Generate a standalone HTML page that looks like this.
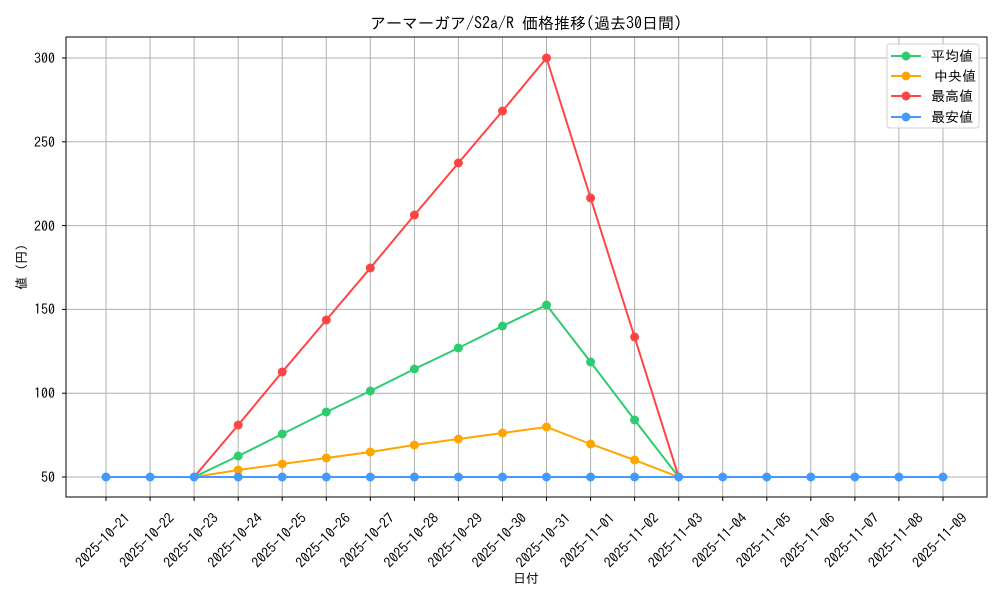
<!DOCTYPE html>
<html><head><meta charset="utf-8"><style>body{margin:0;background:#fff}svg{display:block}text{font-family:"IPAGothic","Noto Sans CJK JP",sans-serif;fill:#000}</style></head><body>
<svg width="1000" height="600" viewBox="0 0 1000 600">
<g stroke="#b0b0b0" stroke-width="1">
<line x1="66" x2="987" y1="477" y2="477"/><line x1="66" x2="987" y1="393.2" y2="393.2"/><line x1="66" x2="987" y1="309.4" y2="309.4"/><line x1="66" x2="987" y1="225.6" y2="225.6"/><line x1="66" x2="987" y1="141.8" y2="141.8"/><line x1="66" x2="987" y1="58" y2="58"/>
<line x1="106" x2="106" y1="37" y2="497"/><line x1="150.1" x2="150.1" y1="37" y2="497"/><line x1="194.1" x2="194.1" y1="37" y2="497"/><line x1="238.2" x2="238.2" y1="37" y2="497"/><line x1="282.2" x2="282.2" y1="37" y2="497"/><line x1="326.3" x2="326.3" y1="37" y2="497"/><line x1="370.3" x2="370.3" y1="37" y2="497"/><line x1="414.4" x2="414.4" y1="37" y2="497"/><line x1="458.4" x2="458.4" y1="37" y2="497"/><line x1="502.5" x2="502.5" y1="37" y2="497"/><line x1="546.5" x2="546.5" y1="37" y2="497"/><line x1="590.6" x2="590.6" y1="37" y2="497"/><line x1="634.6" x2="634.6" y1="37" y2="497"/><line x1="678.7" x2="678.7" y1="37" y2="497"/><line x1="722.7" x2="722.7" y1="37" y2="497"/><line x1="766.8" x2="766.8" y1="37" y2="497"/><line x1="810.8" x2="810.8" y1="37" y2="497"/><line x1="854.9" x2="854.9" y1="37" y2="497"/><line x1="898.9" x2="898.9" y1="37" y2="497"/><line x1="943" x2="943" y1="37" y2="497"/>
</g>
<rect x="66" y="37" width="921" height="460" fill="none" stroke="#000" stroke-width="1"/>
<g stroke="#000"><line x1="62" x2="66" y1="477" y2="477"/><line x1="62" x2="66" y1="393.2" y2="393.2"/><line x1="62" x2="66" y1="309.4" y2="309.4"/><line x1="62" x2="66" y1="225.6" y2="225.6"/><line x1="62" x2="66" y1="141.8" y2="141.8"/><line x1="62" x2="66" y1="58" y2="58"/>
<line x1="106" x2="106" y1="497" y2="501"/><line x1="150.1" x2="150.1" y1="497" y2="501"/><line x1="194.1" x2="194.1" y1="497" y2="501"/><line x1="238.2" x2="238.2" y1="497" y2="501"/><line x1="282.2" x2="282.2" y1="497" y2="501"/><line x1="326.3" x2="326.3" y1="497" y2="501"/><line x1="370.3" x2="370.3" y1="497" y2="501"/><line x1="414.4" x2="414.4" y1="497" y2="501"/><line x1="458.4" x2="458.4" y1="497" y2="501"/><line x1="502.5" x2="502.5" y1="497" y2="501"/><line x1="546.5" x2="546.5" y1="497" y2="501"/><line x1="590.6" x2="590.6" y1="497" y2="501"/><line x1="634.6" x2="634.6" y1="497" y2="501"/><line x1="678.7" x2="678.7" y1="497" y2="501"/><line x1="722.7" x2="722.7" y1="497" y2="501"/><line x1="766.8" x2="766.8" y1="497" y2="501"/><line x1="810.8" x2="810.8" y1="497" y2="501"/><line x1="854.9" x2="854.9" y1="497" y2="501"/><line x1="898.9" x2="898.9" y1="497" y2="501"/><line x1="943" x2="943" y1="497" y2="501"/></g>
<g font-size="14" text-anchor="end"><text x="55" y="482">50</text><text x="55" y="398">100</text><text x="55" y="314">150</text><text x="55" y="231">200</text><text x="55" y="147">250</text><text x="55" y="63">300</text></g>
<g font-size="14" text-anchor="end">
<text transform="translate(131,519) rotate(-45)">2025-10-21</text>
<text transform="translate(175.1,519) rotate(-45)">2025-10-22</text>
<text transform="translate(219.1,519) rotate(-45)">2025-10-23</text>
<text transform="translate(263.2,519) rotate(-45)">2025-10-24</text>
<text transform="translate(307.2,519) rotate(-45)">2025-10-25</text>
<text transform="translate(351.3,519) rotate(-45)">2025-10-26</text>
<text transform="translate(395.3,519) rotate(-45)">2025-10-27</text>
<text transform="translate(439.4,519) rotate(-45)">2025-10-28</text>
<text transform="translate(483.4,519) rotate(-45)">2025-10-29</text>
<text transform="translate(527.5,519) rotate(-45)">2025-10-30</text>
<text transform="translate(571.5,519) rotate(-45)">2025-10-31</text>
<text transform="translate(615.6,519) rotate(-45)">2025-11-01</text>
<text transform="translate(659.6,519) rotate(-45)">2025-11-02</text>
<text transform="translate(703.7,519) rotate(-45)">2025-11-03</text>
<text transform="translate(747.7,519) rotate(-45)">2025-11-04</text>
<text transform="translate(791.8,519) rotate(-45)">2025-11-05</text>
<text transform="translate(835.8,519) rotate(-45)">2025-11-06</text>
<text transform="translate(879.9,519) rotate(-45)">2025-11-07</text>
<text transform="translate(923.9,519) rotate(-45)">2025-11-08</text>
<text transform="translate(968,519) rotate(-45)">2025-11-09</text>
</g>
<text x="526" y="583" font-size="13" text-anchor="middle">日付</text>
<text transform="translate(26,267) rotate(-90)" font-size="13" text-anchor="middle">値 (円)</text>
<text x="526" y="29" font-size="16" text-anchor="middle">アーマーガア/S2a/R 価格推移(過去30日間)</text>
<g fill="none" stroke-width="2">
<polyline stroke="#2ecc71" points="106,477 150.1,477 194.1,477 238.2,456 282.2,434 326.3,412 370.3,391 414.4,369 458.4,348 502.5,326 546.5,305 590.6,362 634.6,420 678.7,477 722.7,477 766.8,477 810.8,477 854.9,477 898.9,477 943,477"/>
<polyline stroke="#ffa500" points="106,477 150.1,477 194.1,477 238.2,470 282.2,464 326.3,458 370.3,452 414.4,445 458.4,439 502.5,433 546.5,427 590.6,444 634.6,460 678.7,477 722.7,477 766.8,477 810.8,477 854.9,477 898.9,477 943,477"/>
<polyline stroke="#ff4444" points="106,477 150.1,477 194.1,477 238.2,425 282.2,372 326.3,320 370.3,268 414.4,215 458.4,163 502.5,111 546.5,58 590.6,198 634.6,337 678.7,477 722.7,477 766.8,477 810.8,477 854.9,477 898.9,477 943,477"/>
</g>
<g fill="#2ecc71"><circle cx="238.2" cy="456" r="4.5"/><circle cx="282.2" cy="434" r="4.5"/><circle cx="326.3" cy="412" r="4.5"/><circle cx="370.3" cy="391" r="4.5"/><circle cx="414.4" cy="369" r="4.5"/><circle cx="458.4" cy="348" r="4.5"/><circle cx="502.5" cy="326" r="4.5"/><circle cx="546.5" cy="305" r="4.5"/><circle cx="590.6" cy="362" r="4.5"/><circle cx="634.6" cy="420" r="4.5"/></g>
<g fill="#ffa500"><circle cx="238.2" cy="470" r="4.5"/><circle cx="282.2" cy="464" r="4.5"/><circle cx="326.3" cy="458" r="4.5"/><circle cx="370.3" cy="452" r="4.5"/><circle cx="414.4" cy="445" r="4.5"/><circle cx="458.4" cy="439" r="4.5"/><circle cx="502.5" cy="433" r="4.5"/><circle cx="546.5" cy="427" r="4.5"/><circle cx="590.6" cy="444" r="4.5"/><circle cx="634.6" cy="460" r="4.5"/></g>
<g fill="#ff4444"><circle cx="238.2" cy="425" r="4.5"/><circle cx="282.2" cy="372" r="4.5"/><circle cx="326.3" cy="320" r="4.5"/><circle cx="370.3" cy="268" r="4.5"/><circle cx="414.4" cy="215" r="4.5"/><circle cx="458.4" cy="163" r="4.5"/><circle cx="502.5" cy="111" r="4.5"/><circle cx="546.5" cy="58" r="4.5"/><circle cx="590.6" cy="198" r="4.5"/><circle cx="634.6" cy="337" r="4.5"/></g>
<line x1="106" x2="943" y1="477" y2="477" stroke="#4499ff" stroke-width="2"/>
<g fill="#4499ff"><circle cx="106" cy="477" r="4.5"/><circle cx="150.1" cy="477" r="4.5"/><circle cx="194.1" cy="477" r="4.5"/><circle cx="238.2" cy="477" r="4.5"/><circle cx="282.2" cy="477" r="4.5"/><circle cx="326.3" cy="477" r="4.5"/><circle cx="370.3" cy="477" r="4.5"/><circle cx="414.4" cy="477" r="4.5"/><circle cx="458.4" cy="477" r="4.5"/><circle cx="502.5" cy="477" r="4.5"/><circle cx="546.5" cy="477" r="4.5"/><circle cx="590.6" cy="477" r="4.5"/><circle cx="634.6" cy="477" r="4.5"/><circle cx="678.7" cy="477" r="4.5"/><circle cx="722.7" cy="477" r="4.5"/><circle cx="766.8" cy="477" r="4.5"/><circle cx="810.8" cy="477" r="4.5"/><circle cx="854.9" cy="477" r="4.5"/><circle cx="898.9" cy="477" r="4.5"/><circle cx="943" cy="477" r="4.5"/></g>
<rect x="887" y="44" width="92" height="84" rx="3" fill="#fff" fill-opacity="0.8" stroke="#d0d0d0"/>
<g stroke-width="2">
<line x1="891" x2="921" y1="56" y2="56" stroke="#2ecc71"/><circle cx="906" cy="56" r="4.5" fill="#2ecc71"/>
<line x1="891" x2="921" y1="76" y2="76" stroke="#ffa500"/><circle cx="906" cy="76" r="4.5" fill="#ffa500"/>
<line x1="891" x2="921" y1="96" y2="96" stroke="#ff4444"/><circle cx="906" cy="96" r="4.5" fill="#ff4444"/>
<line x1="891" x2="921" y1="117" y2="117" stroke="#4499ff"/><circle cx="906" cy="117" r="4.5" fill="#4499ff"/>
</g>
<g font-size="14"><text x="931" y="61">平均値</text><text x="934" y="81">中央値</text><text x="931" y="101">最高値</text><text x="931" y="122">最安値</text></g>
</svg>
</body></html>
